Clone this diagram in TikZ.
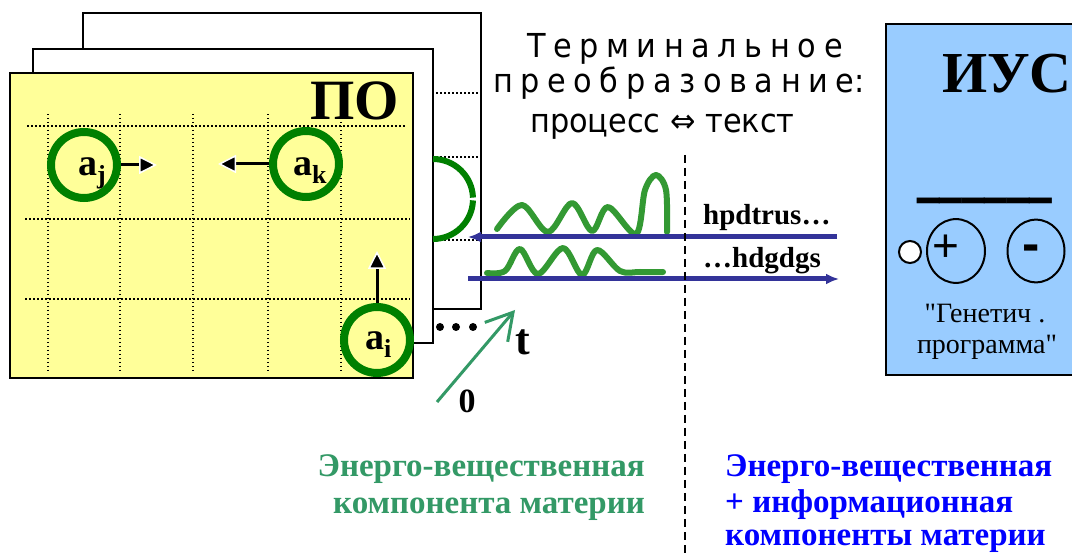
\documentclass[tikz,border=0pt]{standalone}
\usepackage{fontspec}
\setmainfont{Liberation Serif}
\newfontfamily\titlefont[FakeStretch=0.92]{DejaVu Sans}
\newfontfamily\signfont{Liberation Sans}
\usetikzlibrary{arrows.meta}

\definecolor{paperyellow}{HTML}{FFFF99}
\definecolor{iusblue}{HTML}{99CCFF}
\definecolor{ringgreen}{HTML}{008000}
\definecolor{wavegreen}{HTML}{339933}
\definecolor{signalblue}{HTML}{333399}
\definecolor{axisgreen}{HTML}{339966}
\definecolor{infoblue}{HTML}{0000FF}

\newcommand\fs[1]{\fontsize{#1}{#1}\selectfont}
\newcommand\lowsub[1]{\raisebox{-8pt}{\fs{26}#1}}
\newcommand\tightspaces[1]{{\spaceskip=7.6pt\relax #1}}

\begin{document}
\begin{tikzpicture}[x=1pt,y=-1pt,
  sheet/.style={draw=black, line width=2.5pt, fill=white},
  gridline/.style={line width=1.5pt, dash pattern=on 1.5pt off 2.5pt},
  ring/.style={circle, draw=ringgreen, line width=8pt, minimum size=66pt, inner sep=0pt},
  lbl/.style={inner sep=0pt, font=\bfseries\fs{38}},
  move/.style={line width=3pt, -{Triangle[length=18pt,width=18pt,fill=black,color=white,line width=1.5pt]}},
  wavy/.style={wavegreen, line width=6pt, line cap=round, line join=round},
  sigarrow/.style={signalblue, line width=5pt, -{Latex[length=13pt,width=11pt]}},
  txt/.style={inner sep=0pt},
  ttl/.style={inner sep=0pt, anchor=base west, font=\titlefont\fs{33}},
  bottomtxt/.style={inner sep=0pt, font=\bfseries\fs{33}}
]
\useasboundingbox (0,0) rectangle (1072,553);
\fill[white] (0,0) rectangle (1072,553);

% stacked sheets of the process field
\path[sheet] (83,13) rectangle (481,309);
\foreach \y in {93,157,240}
  \draw[gridline] (436,\y) -- (480,\y);
\path[sheet] (33,49) rectangle (433,343);
\path[sheet, fill=paperyellow] (10,73) rectangle (413,378);

% dotted grid on the front sheet
\draw[gridline] (27,126) -- (405,126);
\draw[gridline] (25,219) -- (410,219);
\draw[gridline] (25,299) -- (410,299);
\foreach \x in {48,120,193,268,341}
  \draw[gridline] (\x,114) -- (\x,372);

\node[txt, font=\bfseries\fs{57}, anchor=base east] (po) at (399,120) {ПО};

% elements of the field and their moves
\node[ring] (aj) at (84,165) {};
\node[ring] (ak) at (306,164) {};
\node[ring] (ai) at (377,340) {};
\node[lbl, anchor=base west] (ajl) at (78,176) {a\lowsub{j}};
\node[lbl, anchor=base west] (akl) at (293,176) {a\lowsub{k}};
\node[lbl, anchor=base west] (ail) at (365,350) {a\lowsub{i}};
\coordinate (ajto) at (157,165);
\coordinate (akto) at (218,164);
\coordinate (aito) at (377,251);
\draw[move] (aj.east) -- (ajto);
\draw[move] (ak.west) -- (akto);
\draw[move] (ai.north) -- (aito);

% receptor on the back sheet
\draw[ringgreen, line width=6pt] (433,159) arc[start angle=-90, end angle=-2, radius=40];
\draw[ringgreen, line width=6pt] (433,239) arc[start angle=90, end angle=2, radius=40];

% continuation dots and time axis
\foreach \x [count=\i] in {440,456,473}
  \node[circle, fill=black, inner sep=0pt, minimum size=8pt] (dot\i) at (\x,327) {};
\coordinate (t0) at (437,402);
\coordinate (t1) at (515,310);
\draw[axisgreen, line width=3pt, -{Straight Barb[length=26pt,width=30pt]}] (t0) -- (t1);
\node[txt, font=\bfseries\fs{44}, anchor=base] (tlab) at (523,355) {t};
\node[txt, font=\bfseries\fs{34}, anchor=base] (zlab) at (467,413) {0};

% title
\node[ttl] (ttl1) at (527,58) {\tightspaces{Т е р м и н а л ь н о е}};
\node[ttl] (ttl2) at (493,93) {\tightspaces{п р е о б р а з о в а н и е:}};
\node[ttl] (ttl3) at (530,133) {процесс ⇔ текст};

% processes as waves
\draw[wavy] plot[smooth, tension=0.55] coordinates {(497,229) (522,205) (548,232) (572,203) (592,231) (608,207) (636,234) (645,190) (656,175) (666,190) (667,232)};
\draw[wavy] plot[smooth, tension=0.55] coordinates {(487,273) (505,271) (520,249) (538,274) (563,248) (582,275) (597,250) (620,271) (640,272) (663,272)};

% text streams
\coordinate (inR) at (837,237);
\coordinate (inL) at (468,237);
\coordinate (outL) at (468,279);
\coordinate (outR) at (839,279);
\draw[sigarrow] (inR) -- (inL);
\draw[sigarrow] (outL) -- (outR);
\node[txt, font=\bfseries\fs{29}, anchor=base west] (seqin) at (703,225) {hpdtrus…};
\node[txt, font=\bfseries\fs{29}, anchor=base west] (seqout) at (703,268) {…hdgdgs};

% border between the components
\coordinate (dtop) at (685,155);
\coordinate (dbot) at (685,553);
\draw[line width=1.5pt, dash pattern=on 8pt off 5pt] (dtop) -- (dbot);

% information control system
\path[sheet, fill=iusblue] (886,24) rectangle (1085,375);
\node[txt, font=\bfseries\fs{58}, anchor=base west] (ius) at (942,93) {ИУС};
\node[txt, font=\bfseries\fs{45}, anchor=base west, yscale=1.8, transform shape] (bar) at (917,193) {\_\_\_\_\_\_};
\node[circle, draw=black, fill=white, line width=2pt, minimum size=22pt, inner sep=0pt] (port) at (910,252) {};
\node[draw=black, line width=2pt, circle, inner sep=0pt, minimum size=58pt, yscale=1.1] (plus) at (956,251) {};
\node[draw=black, line width=2pt, circle, inner sep=0pt, minimum size=57pt, yscale=1.1] (minus) at (1036,251) {};
\node[txt, font=\signfont\fs{46}] (plusl) at (946,248) {+};
\node[txt, font=\signfont\bfseries\fs{52}] (minusl) at (1031,253) {-};
\node[txt, font=\fs{28}, anchor=base] (gen1) at (985,323) {\textquotedbl Генетич .};
\node[txt, font=\fs{28}, anchor=base] (gen2) at (987,354) {программа\textquotedbl};

% captions
\node[bottomtxt, text=axisgreen, anchor=base east] (mat1) at (645,477) {Энерго-вещественная};
\node[bottomtxt, text=axisgreen, anchor=base east] (mat2) at (645,513) {компонента материи};
\node[bottomtxt, text=infoblue, anchor=base west] (inf1) at (725,477) {Энерго-вещественная};
\node[bottomtxt, text=infoblue, anchor=base west] (inf2) at (725,512) {+ информационная};
\node[bottomtxt, text=infoblue, anchor=base west] (inf3) at (725,545) {компоненты материи};
\end{tikzpicture}
\end{document}
